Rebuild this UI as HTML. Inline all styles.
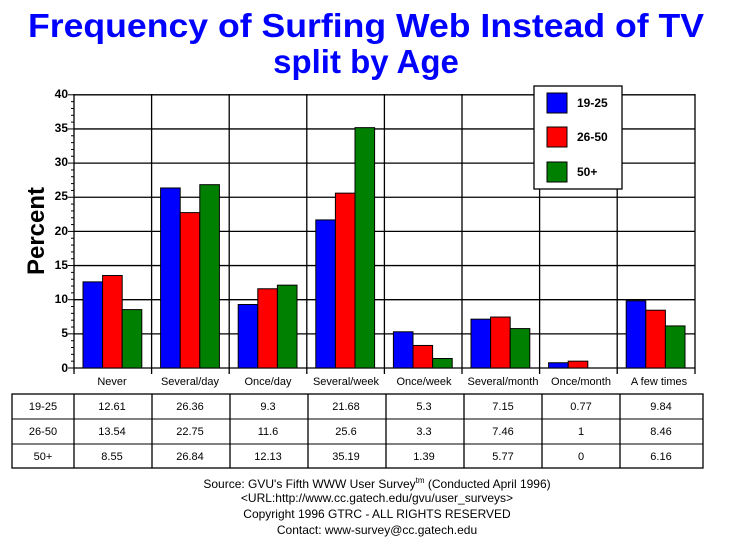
<!DOCTYPE html>
<html><head><meta charset="utf-8"><style>
html,body{margin:0;padding:0;background:#fff;}
svg{display:block;font-family:"Liberation Sans",Arial,sans-serif;}
</style></head><body>
<svg id="s" width="729" height="553" viewBox="0 0 729 553" xmlns="http://www.w3.org/2000/svg">
<rect width="729" height="553" fill="#fff"/>
<text x="366" y="37" text-anchor="middle" font-size="33" font-weight="bold" fill="#0000ff" textLength="676" lengthAdjust="spacingAndGlyphs">Frequency of Surfing Web Instead of TV</text>
<text x="366" y="73" text-anchor="middle" font-size="33" font-weight="bold" fill="#0000ff">split by Age</text>
<g id="grid" stroke="#000" stroke-width="1.3"></g>
<g id="bars" stroke="#000" stroke-width="1"></g>
<g font-size="12" font-weight="bold" text-anchor="end">
<text x="68" y="98">40</text><text x="68" y="132">35</text><text x="68" y="166">30</text><text x="68" y="200">25</text>
<text x="68" y="235">20</text><text x="68" y="269">15</text><text x="68" y="303">10</text><text x="68" y="337">5</text><text x="68" y="372">0</text>
</g>
<text transform="translate(44,231) rotate(-90)" text-anchor="middle" font-size="24" font-weight="bold">Percent</text>
<rect x="534" y="86" width="88" height="103" fill="#fff" stroke="#000" stroke-width="1.3"/>
<rect x="547" y="93" width="20" height="20" fill="#0000ff" stroke="#000"/>
<rect x="547" y="127" width="20" height="20" fill="#ff0000" stroke="#000"/>
<rect x="547" y="162" width="20" height="20" fill="#008000" stroke="#000"/>
<g font-size="12" font-weight="bold"><text x="577" y="107">19-25</text><text x="577" y="141">26-50</text><text x="577" y="176">50+</text></g>
<g font-size="11" text-anchor="middle">
<text x="112" y="385">Never</text><text x="190" y="385">Several/day</text><text x="268" y="385">Once/day</text><text x="346" y="385">Several/week</text><text x="424" y="385">Once/week</text><text x="503" y="385">Several/month</text><text x="581" y="385">Once/month</text><text x="659" y="385">A few times</text>
</g>
<g stroke="#000" stroke-width="1.3" fill="none">
<rect x="12" y="394" width="691" height="74"/>
<line x1="12" y1="419" x2="703" y2="419" stroke-width="1"/><line x1="12" y1="444" x2="703" y2="444" stroke-width="1"/>
<line x1="74" y1="394" x2="74" y2="468"/><line x1="152" y1="394" x2="152" y2="468"/><line x1="230" y1="394" x2="230" y2="468"/><line x1="308" y1="394" x2="308" y2="468"/><line x1="386" y1="394" x2="386" y2="468"/><line x1="464" y1="394" x2="464" y2="468"/><line x1="542" y1="394" x2="542" y2="468"/><line x1="620" y1="394" x2="620" y2="468"/>
</g>
<g font-size="11" text-anchor="middle">
<text x="43" y="410">19-25</text><text x="112" y="410">12.61</text><text x="190" y="410">26.36</text><text x="268" y="410">9.3</text><text x="346" y="410">21.68</text><text x="424" y="410">5.3</text><text x="503" y="410">7.15</text><text x="581" y="410">0.77</text><text x="661" y="410">9.84</text>
<text x="43" y="435">26-50</text><text x="112" y="435">13.54</text><text x="190" y="435">22.75</text><text x="268" y="435">11.6</text><text x="346" y="435">25.6</text><text x="424" y="435">3.3</text><text x="503" y="435">7.46</text><text x="581" y="435">1</text><text x="661" y="435">8.46</text>
<text x="43" y="460">50+</text><text x="112" y="460">8.55</text><text x="190" y="460">26.84</text><text x="268" y="460">12.13</text><text x="346" y="460">35.19</text><text x="424" y="460">1.39</text><text x="503" y="460">5.77</text><text x="581" y="460">0</text><text x="661" y="460">6.16</text>
</g>
<g font-size="12" text-anchor="middle">
<text x="377" y="488">Source: GVU's Fifth WWW User Survey<tspan font-size="8" dy="-5">tm</tspan><tspan dy="5">  (Conducted April 1996)</tspan></text>
<text x="377" y="502">&lt;URL:http://www.cc.gatech.edu/gvu/user_surveys&gt;</text>
<text x="377" y="518">Copyright 1996 GTRC -  ALL RIGHTS RESERVED</text>
<text x="377" y="534">Contact: www-survey@cc.gatech.edu</text>
</g>
</svg>
<script>
var ns="http://www.w3.org/2000/svg",g=document.getElementById("grid"),b=document.getElementById("bars");
function el(p,t,a){var e=document.createElementNS(ns,t);for(var k in a)e.setAttribute(k,a[k]);p.appendChild(e);}
var y0=368,k=6.83,x0=74,x1=695,gw=77.6;
for(var v=5;v<=40;v+=5){var y=y0-v*k;el(g,"line",{x1:x0,y1:y,x2:x1,y2:y});}
for(var v=0;v<=40;v++){var y=y0-v*k;el(g,"line",{x1:v%5?71:68,y1:y,x2:x0,y2:y,"stroke-width":1});}
el(g,"line",{x1:x0,y1:94,x2:x0,y2:374});el(g,"line",{x1:x0,y1:y0,x2:x1,y2:y0});el(g,"line",{x1:x1,y1:94,x2:x1,y2:374});
for(var i=1;i<8;i++){var x=x0+i*gw;el(g,"line",{x1:x,y1:94,x2:x,y2:374});}
var d=[[12.61,13.54,8.55],[26.36,22.75,26.84],[9.3,11.6,12.13],[21.68,25.6,35.19],[5.3,3.3,1.39],[7.15,7.46,5.77],[0.77,1,0],[9.84,8.46,6.16]],c=["#0000ff","#ff0000","#008000"];
for(var i=0;i<8;i++)for(var j=0;j<3;j++){var v=d[i][j];if(!v)continue;var h=v*k;el(b,"rect",{x:x0+i*gw+9+j*19.6,y:y0-h,width:19.6,height:h,fill:c[j]});}
</script>
</body></html>
